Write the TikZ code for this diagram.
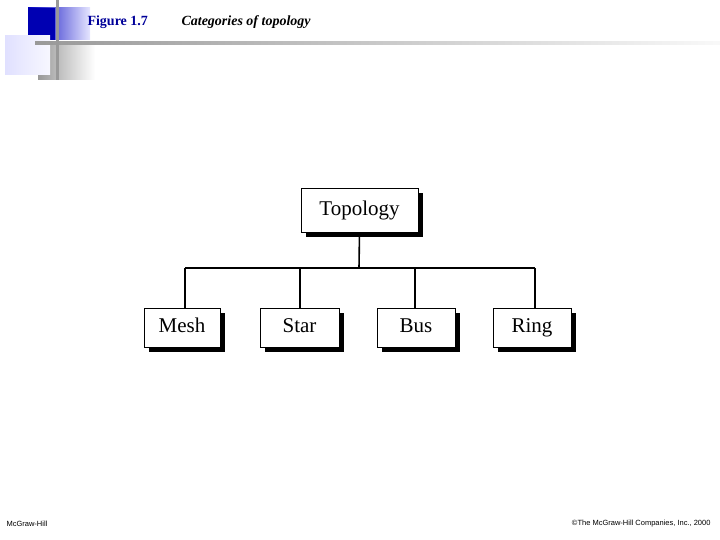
\documentclass[tikz,border=0pt]{standalone}
\usepackage{fontspec}
\setmainfont{Liberation Serif}
\newfontfamily\footfont{Liberation Sans}
\begin{document}
\begin{tikzpicture}[x=1pt,y=-1pt,
  box/.style={draw=black,line width=0.8pt,fill=white,inner sep=0pt,text height=14pt,text depth=4pt,font=\fontsize{21}{21}\selectfont},
  conn/.style={line width=1.6pt}]
\useasboundingbox (0,0) rectangle (720,540);
% decoration
\shade[left color=blue!75!black, right color=blue!10] (28,8) rectangle (90,40);
\fill[blue!70!black] (28,8) rectangle (55,40);
\shade[left color=gray!80, right color=white] (38,45) rectangle (95,80);
\shade[left color=blue!12, right color=blue!3] (5,36) rectangle (50,75);
\shade[left color=gray!80, right color=gray!5] (35,42) rectangle (720,45);
\fill[gray!80] (56,0) rectangle (59,80);
\node[anchor=west,text=blue!60!black,font=\bfseries\fontsize{14}{14}\selectfont] (fig) at (84,22) {Figure 1.7};
\node[anchor=west,font=\bfseries\itshape\fontsize{14}{14}\selectfont] (cap) at (178,22) {Categories of topology};
% boxes
\foreach \n/\xa/\xb/\ya/\yb/\t in {top/301/418/188/232/Topology, mesh/144/220/308/347/Mesh, star/260/339/308/347/Star, bus/377/455/308/347/Bus, ring/493/571/308/347/Ring}{
  \fill[black] (\xa+5,\ya+5) rectangle (\xb+5,\yb+5);
  \node[box,minimum width={(\xb-\xa)*1pt},minimum height={(\yb-\ya)*1pt}] (\n) at ({(\xa+\xb)/2},{(\ya+\yb)/2}) {\t};
}
\coordinate (j) at (359,268);
\draw[conn] (top.south) -- (j);
\draw[conn] (185,268) -- (535,268);
\draw[conn] (mesh.north -| 185,0) -- (185,268);
\draw[conn] (star.north -| 300,0) -- (300,268);
\draw[conn] (bus.north -| 415,0) -- (415,268);
\draw[conn] (ring.north -| 535,0) -- (535,268);
\node[anchor=west,font=\footfont\fontsize{7.5}{8}\selectfont] (l) at (3,524) {McGraw-Hill};
\node[anchor=east,font=\footfont\fontsize{7.5}{8}\selectfont] (r) at (714,524) {©The McGraw-Hill Companies, Inc., 2000};
\end{tikzpicture}
\end{document}
